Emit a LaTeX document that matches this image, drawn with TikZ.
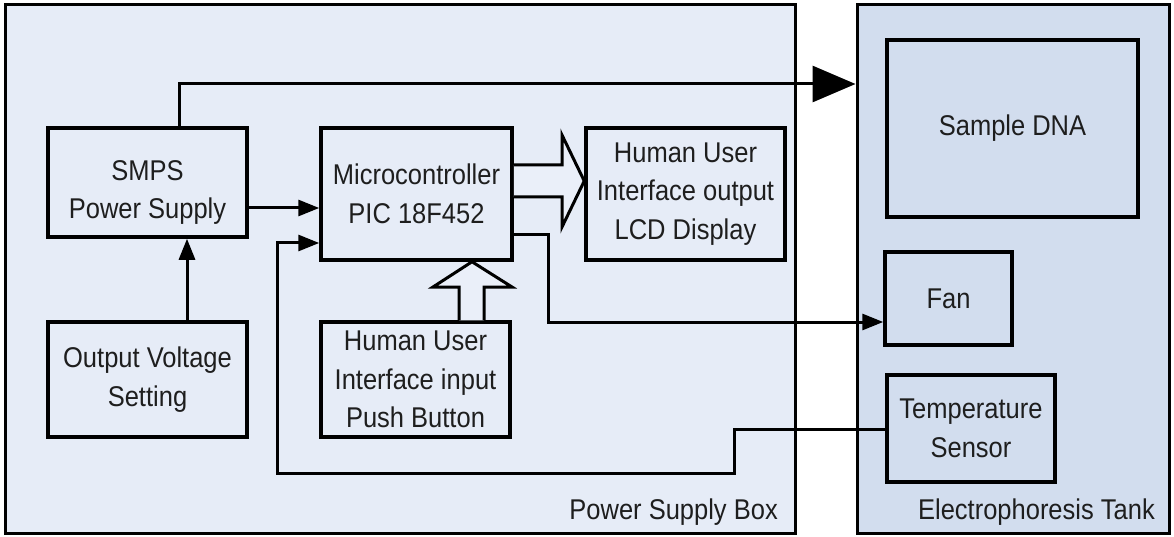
\documentclass[tikz,border=0pt]{standalone}
\usepackage{fontspec}
\usepackage{graphicx}
\setmainfont{Liberation Sans}
\usetikzlibrary{arrows.meta}
\definecolor{psfill}{RGB}{230,236,247}
\definecolor{tankfill}{RGB}{210,221,238}
\definecolor{hollow}{RGB}{234,239,249}
\definecolor{txt}{RGB}{30,30,30}
\newcommand{\vst}[1]{\scalebox{1}[1.12]{#1}}
\begin{document}
\begin{tikzpicture}[x=1pt,y=-1pt,
  box/.style={draw=black,line width=3.5pt,rectangle,align=center,inner sep=0pt,
    text=txt,font=\fontsize{25.5}{38.5}\selectfont},
  outer/.style={draw=black,line width=3pt,rectangle,inner sep=0pt},
  conn/.style={draw=black,line width=3pt},
  tip/.style={-{Triangle[length=21pt,width=16pt]}},
  lbl/.style={font=\fontsize{25.5}{38.5}\selectfont,inner sep=0pt,text=txt},
  hol/.style={draw=black,line width=3pt,fill=hollow,line join=miter}]
\useasboundingbox (0,0) rectangle (1174,537);
% containers
\node[outer,fill=psfill,minimum width=790pt,minimum height=528pt] (psbox) at (400,269) {};
\node[outer,fill=tankfill,minimum width=312pt,minimum height=528pt] (tank) at (1013,269) {};
\node[lbl,anchor=east] (pslbl) at (778,512) {\vst{Power Supply Box}};
\node[lbl,anchor=east] (tanklbl) at (1155,512) {\vst{Electrophoresis Tank}};
% blocks
\node[box,minimum width=199pt,minimum height=109pt] (smps) at (147.5,182.5) {};
\node[lbl,align=center] (smpst) at (147.5,192.5) {\vst{SMPS}\\\vst{Power Supply}};
\node[box,minimum width=199pt,minimum height=115pt] (ovs) at (147.5,379.5) {\vst{Output Voltage}\\\vst{Setting}};
\node[box,minimum width=191pt,minimum height=132pt] (mcu) at (416.5,194) {\vst{Microcontroller}\\\vst{PIC 18F452}};
\node[box,minimum width=199pt,minimum height=132pt] (lcd) at (685.5,194) {\vst{Human User}\\\vst{Interface output}\\\vst{LCD Display}};
\node[box,minimum width=189pt,minimum height=115pt] (pb) at (415.5,379.5) {\vst{Human User}\\\vst{Interface input}\\\vst{Push Button}};
\node[box,minimum width=251pt,minimum height=177pt] (dna) at (1012.5,128.5) {\vst{Sample DNA}};
\node[box,minimum width=127pt,minimum height=93pt] (fan) at (948.5,298.5) {\vst{Fan}};
\node[box,minimum width=168pt,minimum height=107pt] (temp) at (971,428.5) {\vst{Temperature}\\\vst{Sensor}};
% connectors
\draw[conn,-{Triangle[length=43pt,width=36pt]}] ([xshift=31.5pt]smps.north) |- (tank.west |- 0,84);
\draw[conn,tip] (smps.east |- 0,208) -- (mcu.west |- 0,208);
\draw[conn,tip] (ovs.north -| 187,0) -- (smps.south -| 187,0);
\draw[conn,tip] (mcu.east |- 0,235) -| (548,322) -- (fan.west |- 0,322);
\draw[conn,tip] (temp.west |- 0,429) -| (734,473) -| (277,243) -- (mcu.west |- 0,243);
% hollow arrows
\draw[hol] (mcu.east |- 0,165) -- (562,165) -- (562,135) -- (lcd.west |- 0,181)
  -- (562,227) -- (562,197) -- (mcu.east |- 0,197);
\draw[hol] (pb.north -| 459,0) -- (459,287) -- (433,287) -- (mcu.south -| 472,0)
  -- (512,287) -- (484,287) -- (pb.north -| 484,0);
\end{tikzpicture}
\end{document}
